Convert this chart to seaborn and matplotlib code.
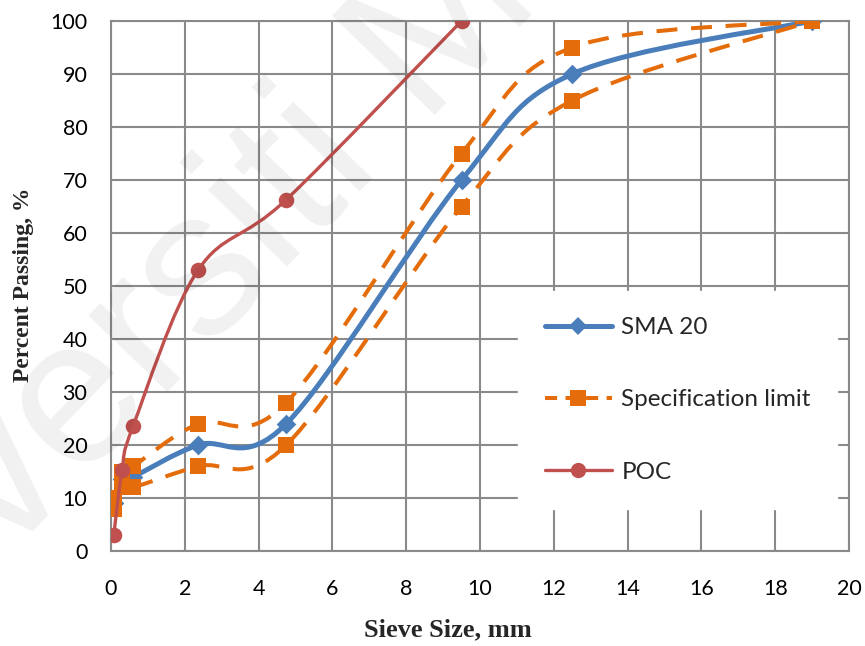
import numpy as np
import pandas as pd
import matplotlib
matplotlib.use("Agg")
import matplotlib.pyplot as plt
import seaborn as sns
from matplotlib.path import Path
from matplotlib.patches import PathPatch
from matplotlib.lines import Line2D

# Sieve sizes (mm) and percent passing
sieve_mm = [0.075, 0.3, 0.6, 2.36, 4.75, 9.5, 12.5, 19]
sma20 = [9, 13.5, 14, 20, 24, 70, 90, 100]
spec_upper = [10, 15, 16, 24, 28, 75, 95, 100]
spec_lower = [8, 12, 12, 16, 20, 65, 85, 100]
poc_sieve_mm = [0.075, 0.3, 0.6, 2.36, 4.75, 9.5]
poc = [3, 15.3, 23.6, 53, 66.3, 100]

x_ticks = list(range(0, 21, 2))
y_ticks = list(range(0, 101, 10))

BLUE = "#4a7ebb"
ORANGE = "#e46c0a"
RED = "#c0504d"
GRID = "#8a8a8a"
DASH = (0, (5.2, 3.4))

sns.set_style("white")
plt.rcParams["font.family"] = ["Lato", "DejaVu Sans"]

frames = [
    pd.DataFrame({"sieve": sieve_mm, "passing": sma20, "curve": "sma"}),
    pd.DataFrame({"sieve": sieve_mm, "passing": spec_upper, "curve": "upper"}),
    pd.DataFrame({"sieve": sieve_mm, "passing": spec_lower, "curve": "lower"}),
    pd.DataFrame({"sieve": poc_sieve_mm, "passing": poc, "curve": "poc"}),
]
df = pd.concat(frames, ignore_index=True)

styles = {
    "sma": dict(color=BLUE, lw=3.6, ls="-", marker="D", s=100),
    "upper": dict(color=ORANGE, lw=2.9, ls=DASH, marker="s", s=130),
    "lower": dict(color=ORANGE, lw=2.9, ls=DASH, marker="s", s=130),
    "poc": dict(color=RED, lw=2.4, ls="-", marker="o", s=125),
}


def smooth_path(xs, ys):
    """Cubic Bezier path through the points (spreadsheet-style smoothing)."""
    pts = np.column_stack([xs, ys]).astype(float)
    n = len(pts)
    verts = [pts[0]]
    codes = [Path.MOVETO]
    for i in range(n - 1):
        p0 = pts[max(i - 1, 0)]
        p1 = pts[i]
        p2 = pts[i + 1]
        p3 = pts[min(i + 2, n - 1)]
        verts += [p1 + (p2 - p0) / 6.0, p2 - (p3 - p1) / 6.0, p2]
        codes += [Path.CURVE4] * 3
    return Path(verts, codes)


fig = plt.figure(figsize=(8.65, 6.46), dpi=100)
ax = fig.add_axes([111 / 865, 1 - 551 / 646, 738 / 865, 530 / 646])

z = 3
for key, st in styles.items():
    sub = df[df["curve"] == key]
    patch = PathPatch(smooth_path(sub["sieve"], sub["passing"]), fill=False,
                      edgecolor=st["color"], lw=st["lw"], linestyle=st["ls"],
                      capstyle="butt" if key in ("upper", "lower") else "round",
                      joinstyle="round", zorder=z)
    ax.add_patch(patch)
    sns.scatterplot(data=sub, x="sieve", y="passing", ax=ax, color=st["color"],
                    marker=st["marker"], s=st["s"], linewidth=0, legend=False,
                    zorder=z + 0.5)
    z += 1

ax.set_xlim(0, 20)
ax.set_ylim(0, 100)
ax.set_xticks(x_ticks)
ax.set_yticks(y_ticks)
ax.set_axisbelow(True)
ax.grid(True, color=GRID, lw=1.5)
for side in ax.spines.values():
    side.set_color(GRID)
    side.set_linewidth(1.5)
ax.tick_params(axis="y", length=5, width=1.5, color=GRID, pad=12,
               labelsize=15.5, labelcolor="black")
ax.tick_params(axis="x", length=0, pad=20, labelsize=15.5, labelcolor="black")

serif = ["Liberation Serif", "DejaVu Serif"]
ax.set_xlabel("Sieve Size, mm", family=serif, weight="bold", size=19)
ax.set_ylabel("Percent Passing, %", family=serif, weight="bold", size=17)
ax.xaxis.set_label_coords(0.457, -0.149)
ax.yaxis.set_label_coords(-0.119, 0.502)
ax.xaxis.label.set_va("center")
ax.yaxis.label.set_va("center")

handles = [
    Line2D([], [], color=BLUE, lw=3.6, marker="D", markersize=9.5,
           markeredgewidth=0),
    Line2D([], [], color=ORANGE, lw=2.9, ls=(0, (3.0, 2.1)), marker="s",
           markersize=11, markeredgewidth=0, dash_capstyle="butt"),
    Line2D([], [], color=RED, lw=2.4, marker="o", markersize=11,
           markeredgewidth=0),
]
leg = ax.legend(handles, ["SMA 20", "Specification limit", "POC"],
                loc="center", bbox_to_anchor=(0.768, 0.285), frameon=True,
                fancybox=False, facecolor="white", edgecolor="white",
                framealpha=1, fontsize=17.5, labelspacing=2.1,
                handlelength=2.75, handletextpad=0.4, borderpad=1.1)
leg.set_zorder(20)

fig.text(0.392, 0.668, "Universiti Malaya", rotation=46,
         rotation_mode="anchor", ha="center", va="baseline",
         fontsize=150, family=["Liberation Sans", "DejaVu Sans"],
         color=(0, 0, 0, 0.06), zorder=30)

fig.savefig("out.png", dpi=100)
